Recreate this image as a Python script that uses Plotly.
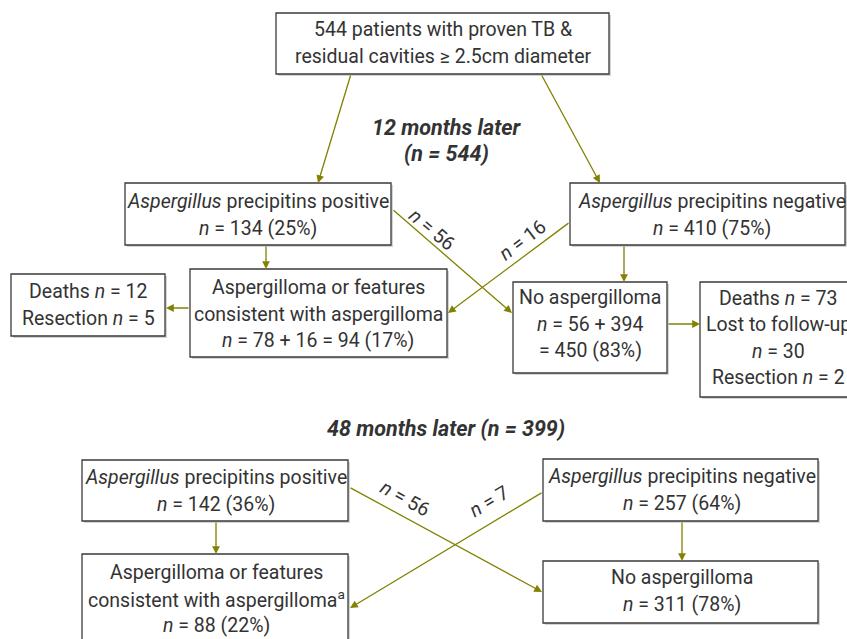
import plotly.graph_objects as go

# ---- data ----
baseline_n = 544
stage_titles = ["12 months later", "48 months later"]
stage_n = [544, 399]
pos_n = [134, 142]
pos_pct = [25, 36]
neg_n = [410, 257]
neg_pct = [75, 64]
pos_to_none = [56, 56]
neg_to_asp = [16, 7]
asp_n = [94, 88]
asp_pct = [17, 22]
none_n = [450, 311]
none_pct = [83, 78]
asp_from_pos_12 = 78
none_from_neg_12 = 394
asp_losses_12 = {"Deaths": 12, "Resection": 5}
none_losses_12 = {"Deaths": 73, "Lost to follow-up": 30, "Resection": 2}

W, H = 847, 639
FONT = "Roboto, Arial, sans-serif"
TXT = "#333333"
OLIVE = "#828200"
FS = 19.5
LS = 26.5

fig = go.Figure()
shapes = []
annotations = []


def box(x0, y0, x1, y1):
    shapes.append(dict(type="rect", xref="x", yref="y", x0=x0 + 2, y0=y0 + 2, x1=x1 + 2, y1=y1 + 2,
                       fillcolor="#d4d4d4", line=dict(width=0), layer="below"))
    shapes.append(dict(type="rect", xref="x", yref="y", x0=x0, y0=y0, x1=x1, y1=y1,
                       fillcolor="white", line=dict(color="#3a3a3a", width=1.3), layer="below"))


def text(x, y, t, size=FS, angle=0, bold_italic=False, spacing=LS):
    lines = t.split("<br>")
    n = len(lines)
    for i, line in enumerate(lines):
        if bold_italic:
            line = "<b><i>" + line + "</i></b>"
        annotations.append(dict(x=x, y=y + (i - (n - 1) / 2) * spacing, xref="x", yref="y",
                                text=line, showarrow=False,
                                xanchor="center", yanchor="middle", textangle=angle,
                                font=dict(family=FONT, size=size, color=TXT)))


def arrow(x0, y0, x1, y1):
    annotations.append(dict(x=x1, y=y1, ax=x0, ay=y0, xref="x", yref="y", axref="x", ayref="y",
                            text="", showarrow=True, arrowhead=2, arrowsize=1.2, arrowwidth=1.3,
                            arrowcolor=OLIVE, standoff=0, startstandoff=0))


ni = "<i>n</i>"

# Top box
box(276, 13, 609, 74)
text(443, 43, f"{baseline_n} patients with proven TB &<br>residual cavities ≥ 2.5cm diameter")

# 12 months
text(446, 140, f"{stage_titles[0]}<br>(n = {stage_n[0]})", size=21.5, bold_italic=True, spacing=26)
box(125, 183, 391, 245)
text(258, 215, f"<i>Aspergillus</i> precipitins positive<br>{ni} = {pos_n[0]} ({pos_pct[0]}%)")
box(570, 183, 845, 245)
text(712, 215, f"<i>Aspergillus</i> precipitins negative<br>{ni} = {neg_n[0]} ({neg_pct[0]}%)")

box(11, 274, 165, 336)
text(88, 305, "<br>".join(f"{k} {ni} = {v}" for k, v in asp_losses_12.items()))
box(190, 269, 447, 357)
text(318, 314, f"Aspergilloma or features<br>consistent with aspergilloma<br>{ni} = {asp_from_pos_12} + {neg_to_asp[0]} = {asp_n[0]} ({asp_pct[0]}%)")
box(513, 282, 667, 373)
text(590, 324, f"No aspergilloma<br>{ni} = {pos_to_none[0]} + {none_from_neg_12}<br>= {none_n[0]} ({none_pct[0]}%)")
box(700, 282, 860, 397)
l = list(none_losses_12.items())
text(778, 338, f"{l[0][0]} {ni} = {l[0][1]}<br>{l[1][0]}<br>{ni} = {l[1][1]}<br>{l[2][0]} {ni} = {l[2][1]}")

arrow(351, 74, 318, 183)
arrow(541, 74, 600, 183)
arrow(266, 245, 266, 269)
arrow(624, 245, 624, 282)
arrow(190, 308, 166, 308)
arrow(667, 324, 700, 324)
arrow(392, 209, 512, 313)
arrow(570, 222, 448, 313)
text(432, 229, f"{ni} = {pos_to_none[0]}", angle=40)
text(522, 240, f"{ni} = {neg_to_asp[0]}", angle=-37)

# 48 months
text(446, 428, f"{stage_titles[1]} (n = {stage_n[1]})", size=21.5, bold_italic=True)
box(82, 460, 348, 521)
text(216, 491, f"<i>Aspergillus</i> precipitins positive<br>{ni} = {pos_n[1]} ({pos_pct[1]}%)")
box(543, 459, 818, 521)
text(682, 490, f"<i>Aspergillus</i> precipitins negative<br>{ni} = {neg_n[1]} ({neg_pct[1]}%)")
box(82, 554, 348, 660)
text(216, 599, f"Aspergilloma or features<br>consistent with aspergilloma<sup>a</sup><br>{ni} = {asp_n[1]} ({asp_pct[1]}%)")
box(543, 561, 818, 623)
text(682, 591, f"No aspergilloma<br>{ni} = {none_n[1]} ({none_pct[1]}%)")

arrow(216, 521, 216, 554)
arrow(682, 521, 682, 561)
arrow(349, 487, 542, 592)
arrow(543, 492, 350, 608)
text(405, 498, f"{ni} = {pos_to_none[1]}", angle=29)
text(489, 501, f"{ni} = {neg_to_asp[1]}", angle=-31)

fig.update_layout(
    width=W, height=H, margin=dict(l=0, r=0, t=0, b=0),
    paper_bgcolor="white", plot_bgcolor="white",
    xaxis=dict(range=[0, W], visible=False, fixedrange=True),
    yaxis=dict(range=[H, 0], visible=False, fixedrange=True),
    shapes=shapes, annotations=annotations, showlegend=False,
)
fig.write_html(
    "out.html",
    config={"displayModeBar": False},
    post_script="document.body.style.margin='0';document.body.style.overflow='hidden';",
)
